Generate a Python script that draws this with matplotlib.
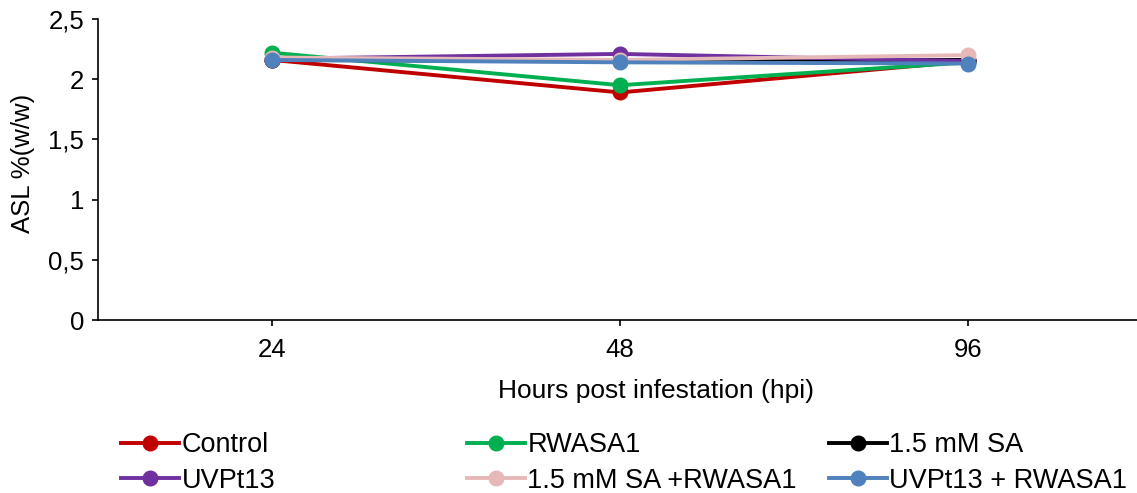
import matplotlib
matplotlib.use("Agg")
import matplotlib.pyplot as plt

plt.rcParams['font.family'] = ['Liberation Sans', 'DejaVu Sans']

categories = ["24", "48", "96"]
series_names = ["Control", "RWASA1", "1.5 mM SA", "UVPt13", "1.5 mM SA +RWASA1", "UVPt13 + RWASA1"]
control = [2.16, 1.89, 2.15]
rwasa1 = [2.22, 1.95, 2.14]
sa = [2.16, 2.15, 2.16]
uvpt13 = [2.17, 2.21, 2.15]
sa_rwasa1 = [2.18, 2.16, 2.20]
uvpt13_rwasa1 = [2.16, 2.14, 2.13]
series_values = [control, rwasa1, sa, uvpt13, sa_rwasa1, uvpt13_rwasa1]
colors = ["#C00000", "#00B050", "#000000", "#7030A0", "#E6B9B8", "#4F81BD"]
ytick_vals = [0, 0.5, 1, 1.5, 2, 2.5]
ytick_labels = ["0", "0,5", "1", "1,5", "2", "2,5"]

FS = 18.5
W, H = 1137, 493
fig = plt.figure(figsize=(W / 100, H / 100), dpi=100)
ax = fig.add_axes([98 / W, 1 - 320 / H, (1137 - 98) / W, (320 - 19) / H])

x = list(range(len(categories)))
handles = []
for name, vals, c in zip(series_names, series_values, colors):
    h, = ax.plot(x, vals, color=c, lw=2.8, marker="o", markersize=10.5, label=name)
    handles.append(h)

ax.set_xlim(-0.5, 2.485)
ax.set_ylim(0, 2.5)
ax.set_xticks(x)
ax.set_xticklabels(categories)
ax.set_yticks(ytick_vals)
ax.set_yticklabels(ytick_labels)
ax.tick_params(axis="both", labelsize=FS, direction="out", length=4, width=1.2)
ax.tick_params(axis="x", pad=9)
ax.tick_params(axis="y", pad=6)
for s in ["top", "right"]:
    ax.spines[s].set_visible(False)
for s in ["left", "bottom"]:
    ax.spines[s].set_linewidth(1.2)

ax.set_xlabel("Hours post infestation (hpi)", fontsize=FS + 0.5)
ax.xaxis.set_label_coords(0.537, -0.195)
ax.set_ylabel("ASL %(w/w)", fontsize=FS)
ax.yaxis.set_label_coords(-0.0605, 0.52)

col_x = [121, 467, 829]
for ci in range(3):
    hs = [handles[ci], handles[ci + 3]]
    fig.legend(hs, [h.get_label() for h in hs], loc="center left",
               bbox_to_anchor=(col_x[ci] / W, 1 - 463 / H), ncol=1,
               frameon=False, fontsize=FS + 1, handlelength=2.15, handletextpad=0.08,
               labelspacing=0.36, borderaxespad=0, borderpad=0)

fig.savefig("out.png", dpi=100)
